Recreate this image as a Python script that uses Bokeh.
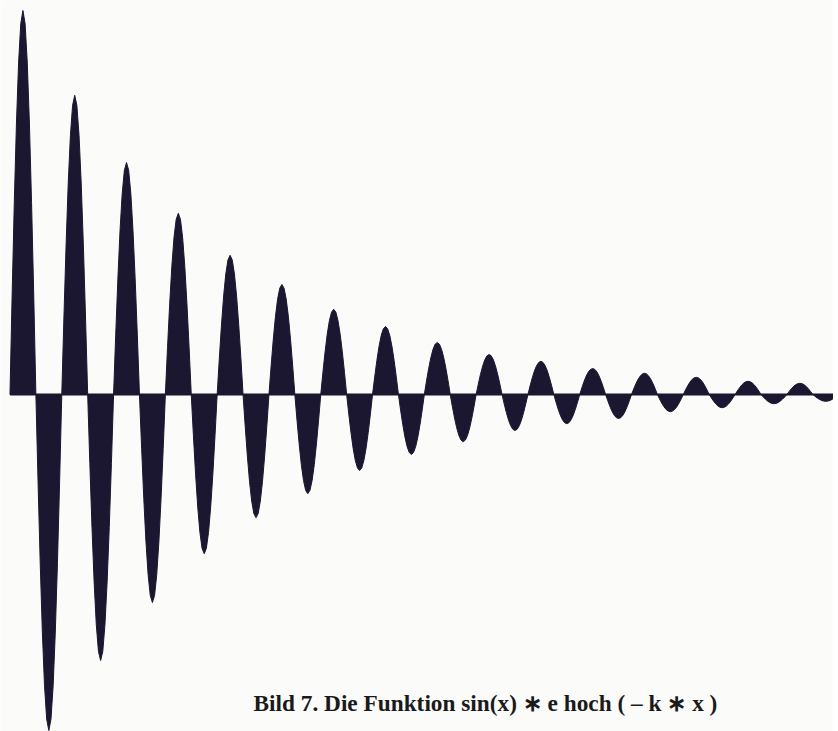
import math
from bokeh.plotting import figure
from bokeh.models import Range1d, Label
from bokeh.embed import file_html
from bokeh.resources import INLINE

# Signed peak value of each half-wave (lobe)
PEAKS = [0.96, -0.84, 0.748, -0.665, 0.58, -0.52, 0.453, -0.398, 0.348, -0.308,
         0.275, -0.248, 0.213, -0.19, 0.17, -0.15, 0.13, -0.118, 0.10, -0.09,
         0.083, -0.073, 0.065, -0.06, 0.053, -0.043, 0.043, -0.033, 0.033, -0.023,
         0.028, -0.017]
CAPTION = "Bild 7. Die Funktion sin(x) \u2217 e hoch ( \u2013 k \u2217 x )"

# normalized lobe outline (fraction of half period, fraction of peak)
PROFILE_T = [0, 1/12, 2/12, 3/12, 4/12, 5/12, 6/12, 7/12, 8/12, 9/12, 10/12, 11/12, 1]
PROFILE_S = [0, 0.259, 0.5, 0.707, 0.866, 0.966, 1.0, 0.966, 0.866, 0.707, 0.5, 0.259, 0]

INK = "#1b1730"
PAPER = "#fbfbfa"

xs, ys = [], []
for i, a in enumerate(PEAKS):
    xs.append([(i + t) * math.pi for t in PROFILE_T])
    ys.append([a * s for s in PROFILE_S])

p = figure(width=833, height=731, output_backend="svg", toolbar_location=None,
           x_range=Range1d(-1.15, 99.9), y_range=Range1d(-0.8425, 0.985),
           min_border=0, background_fill_color=PAPER, border_fill_color=PAPER)
p.axis.visible = False
p.grid.visible = False
p.outline_line_color = None

p.patches(xs, ys, fill_color=INK, line_color=INK, line_width=1)
# the x axis line, from the first lobe to the end of the data
p.segment(x0=[0], y0=[0], x1=[len(PEAKS) * math.pi], y1=[0], line_color=INK, line_width=2)

p.add_layout(Label(x=253, y=29, x_units="screen", y_units="screen", text=CAPTION,
                   text_font="Liberation Serif", text_font_style="bold",
                   text_font_size="23.3px", text_color="#1a1a1a",
                   text_baseline="alphabetic"))

open("out.html", "w").write(file_html(p, INLINE))
